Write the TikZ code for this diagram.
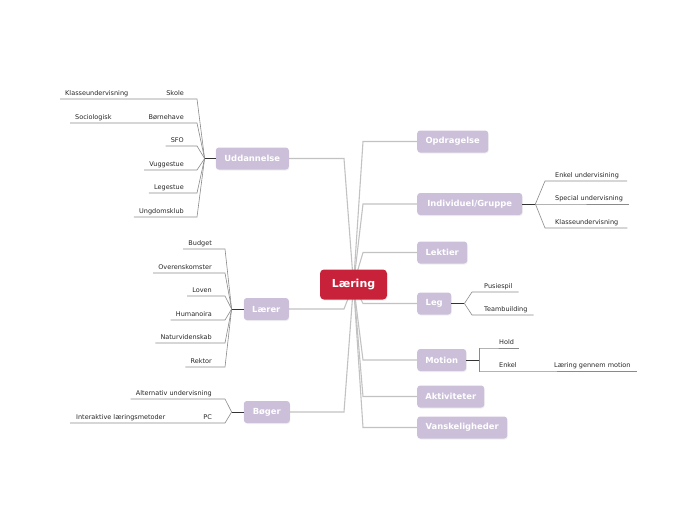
\documentclass[tikz,border=0pt]{standalone}
\usepackage{fontspec}
\setmainfont{DejaVu Sans}
\usepackage{xcolor}
\usetikzlibrary{positioning,calc,backgrounds,shadows}
\definecolor{hubred}{HTML}{C8213A}
\definecolor{lilac}{HTML}{CBBFD9}
\definecolor{linkgrey}{HTML}{C2C2C2}
\definecolor{twiggrey}{HTML}{8A8A8A}
\newcommand\LeafFont{\fontsize{6.5}{7.5}\selectfont}
\newcommand\TopicFont{\fontsize{8.4}{10}\selectfont\bfseries}
\newcommand\HubFont{\fontsize{11}{13}\selectfont\bfseries}
\tikzset{
  hub/.style={
    shape = rectangle,
    rounded corners = 4pt,
    fill = hubred,
    text = white,
    font = \HubFont,
    minimum width = 67pt,
    minimum height = 30pt,
    inner sep = 0pt,
    drop shadow = {opacity=0.12, shadow xshift=0.6pt, shadow yshift=-1pt}
  },
  topic/.style={
    shape = rectangle,
    rounded corners = 3pt,
    fill = lilac,
    text = white,
    font = \TopicFont,
    minimum height = 22pt,
    inner sep = 0pt,
    drop shadow = {opacity=0.12, shadow xshift=0.6pt, shadow yshift=-1pt}
  },
}
\tikzset{
  leafL/.style={
    anchor = south east,
    font = \LeafFont,
    text = black!85,
    text height = 4.8pt,
    text depth = 1.4pt,
    inner xsep = 0pt,
    inner ysep = 2pt
  },
  leafR/.style={
    leafL,
    anchor = south west
  },
  link/.style={
    draw = linkgrey,
    line width = 1.1pt
  },
  stem/.style={
    draw = black!80,
    line width = 0.8pt
  },
  twig/.style={
    draw = twiggrey,
    line width = 0.6pt
  }
}

\begin{document}
\begin{tikzpicture}[x=1pt, y=-1pt]
    \useasboundingbox (0,0) rectangle (697,520);
    \def\Bend{9.5}

    \node[hub] (laering) at (353.5,284.5) {Læring};

    \node[topic, minimum width=73pt, anchor=east] (udd) at (289,158.5) {Uddannelse};
    \node[topic, minimum width=45pt, anchor=east] (laerer) at (289,309) {Lærer};
    \node[topic, minimum width=46pt, anchor=east] (boeger) at (290,412) {Bøger};

    \node[topic, minimum width=71pt, anchor=west] (opd) at (417,141.5) {Opdragelse};
    \node[topic, minimum width=105pt, anchor=west] (indiv) at (417,204) {Individuel/Gruppe};
    \node[topic, minimum width=50pt, anchor=west] (lekt) at (417,252.5) {Lektier};
    \node[topic, minimum width=34pt, anchor=west] (leg) at (417,303.5) {Leg};
    \node[topic, minimum width=49pt, anchor=west] (mot) at (417,360) {Motion};
    \node[topic, minimum width=67pt, anchor=west] (akt) at (417,396.5) {Aktiviteter};
    \node[topic, minimum width=90pt, anchor=west] (vansk) at (417,427.5) {Vanskeligheder};

    % main branches behind the hub
    \begin{scope}[on background layer]
    \draw[link] (laering.center) -- ($(laering.center |- udd.east)+(-\Bend,0)$) -- (udd.east);
    \draw[link] (laering.center) -- ($(laering.center |- laerer.east)+(-\Bend,0)$) -- (laerer.east);
    \draw[link] (laering.center) -- ($(laering.center |- boeger.east)+(-\Bend,0)$) -- (boeger.east);
    \draw[link] (laering.center) -- ($(laering.center |- opd.west)+(\Bend,0)$) -- (opd.west);
    \draw[link] (laering.center) -- ($(laering.center |- indiv.west)+(\Bend,0)$) -- (indiv.west);
    \draw[link] (laering.center) -- ($(laering.center |- lekt.west)+(\Bend,0)$) -- (lekt.west);
    \draw[link] (laering.center) -- ($(laering.center |- leg.west)+(\Bend,0)$) -- (leg.west);
    \draw[link] (laering.center) -- ($(laering.center |- mot.west)+(\Bend,0)$) -- (mot.west);
    \draw[link] (laering.center) -- ($(laering.center |- akt.west)+(\Bend,0)$) -- (akt.west);
    \draw[link] (laering.center) -- ($(laering.center |- vansk.west)+(\Bend,0)$) -- (vansk.west);
    \end{scope}

    % Uddannelse
    \coordinate[left=11pt of udd.west] (uddJ);
    \draw[stem] (udd.west) -- (uddJ);
    \node[leafL] (skole) at (184,99) {Skole};
    \node[leafR] (klasseA) at (65,99) {Klasseundervisning};
    \node[leafL] (boernehave) at (184,123) {Børnehave};
    \node[leafR] (sociologisk) at (75,123) {Sociologisk};
    \node[leafL] (sfo) at (184,146) {SFO};
    \node[leafL] (vuggestue) at (184,170) {Vuggestue};
    \node[leafL] (legestue) at (184,193) {Legestue};
    \node[leafL] (ungdom) at (184,217) {Ungdomsklub};
    \draw[twig] (uddJ) -- ($(skole.south east)+(13,0)$) -- ($(klasseA.south west)+(-5,0)$);
    \draw[twig] (uddJ) -- ($(boernehave.south east)+(13,0)$) -- ($(sociologisk.south west)+(-5,0)$);
    \draw[twig] (uddJ) -- ($(sfo.south east)+(13,0)$) -- ($(sfo.south west)+(-5,0)$);
    \draw[twig] (uddJ) -- ($(vuggestue.south east)+(13,0)$) -- ($(vuggestue.south west)+(-5,0)$);
    \draw[twig] (uddJ) -- ($(legestue.south east)+(13,0)$) -- ($(legestue.south west)+(-5,0)$);
    \draw[twig] (uddJ) -- ($(ungdom.south east)+(13,0)$) -- ($(ungdom.south west)+(-5,0)$);

    % Lærer
    \coordinate[left=12pt of laerer.west] (laererJ);
    \draw[stem] (laerer.west) -- (laererJ);
    \node[leafL] (budget) at (212,249) {Budget};
    \node[leafL] (overens) at (212,273) {Overenskomster};
    \node[leafL] (loven) at (212,296) {Loven};
    \node[leafL] (humanoira) at (212,320) {Humanoira};
    \node[leafL] (natur) at (212,343) {Naturvidenskab};
    \node[leafL] (rektor) at (212,367) {Rektor};
    \draw[twig] (laererJ) -- ($(budget.south east)+(13,0)$) -- ($(budget.south west)+(-5,0)$);
    \draw[twig] (laererJ) -- ($(overens.south east)+(13,0)$) -- ($(overens.south west)+(-5,0)$);
    \draw[twig] (laererJ) -- ($(loven.south east)+(13,0)$) -- ($(loven.south west)+(-5,0)$);
    \draw[twig] (laererJ) -- ($(humanoira.south east)+(13,0)$) -- ($(humanoira.south west)+(-5,0)$);
    \draw[twig] (laererJ) -- ($(natur.south east)+(13,0)$) -- ($(natur.south west)+(-5,0)$);
    \draw[twig] (laererJ) -- ($(rektor.south east)+(13,0)$) -- ($(rektor.south west)+(-5,0)$);

    % Bøger
    \coordinate[left=12pt of boeger.west] (boegerJ);
    \draw[stem] (boeger.west) -- (boegerJ);
    \node[leafL] (alternativ) at (212,399) {Alternativ undervisning};
    \node[leafL] (pc) at (212,423) {PC};
    \node[leafR] (interaktive) at (76,423) {Interaktive læringsmetoder};
    \draw[twig] (boegerJ) -- ($(alternativ.south east)+(13,0)$) -- ($(alternativ.south west)+(-5,0)$);
    \draw[twig] (boegerJ) -- ($(pc.south east)+(13,0)$) -- ($(interaktive.south west)+(-6,0)$);

    % Individuel/Gruppe
    \coordinate[right=13pt of indiv.east] (indivJ);
    \draw[stem] (indiv.east) -- (indivJ);
    \node[leafR] (enkelU) at (555,181) {Enkel undervisining};
    \node[leafR] (special) at (555,204) {Special undervisning};
    \node[leafR] (klasseB) at (555,228) {Klasseundervisning};
    \draw[twig] (indivJ) -- ($(enkelU.south west)+(-10,0)$) -- ($(enkelU.south east)+(8,0)$);
    \draw[twig] (indivJ) -- ($(special.south west)+(-10,0)$) -- ($(special.south east)+(6,0)$);
    \draw[twig] (indivJ) -- ($(klasseB.south west)+(-10,0)$) -- ($(klasseB.south east)+(9,0)$);

    % Leg
    \coordinate[right=13pt of leg.east] (legJ);
    \draw[stem] (leg.east) -- (legJ);
    \node[leafR] (pusiespil) at (484,292) {Pusiespil};
    \node[leafR] (team) at (484,315) {Teambuilding};
    \draw[twig] (legJ) -- ($(pusiespil.south west)+(-12,0)$) -- ($(pusiespil.south east)+(6,0)$);
    \draw[twig] (legJ) -- ($(team.south west)+(-12,0)$) -- ($(team.south east)+(6,0)$);

    % Motion
    \coordinate[right=13pt of mot.east] (motJ);
    \draw[stem] (mot.east) -- (motJ);
    \node[leafR] (hold) at (499,348) {Hold};
    \node[leafR] (enkel) at (499,371) {Enkel};
    \node[leafR] (gennem) at (554,371) {Læring gennem motion};
    \draw[twig] (motJ) |- ($(hold.south west)+(-20,0)$) -- ($(hold.south east)+(5,0)$);
    \draw[twig] (motJ) |- ($(enkel.south west)+(-20,0)$) -- ($(gennem.south east)+(6,0)$);
\end{tikzpicture}
\end{document}
